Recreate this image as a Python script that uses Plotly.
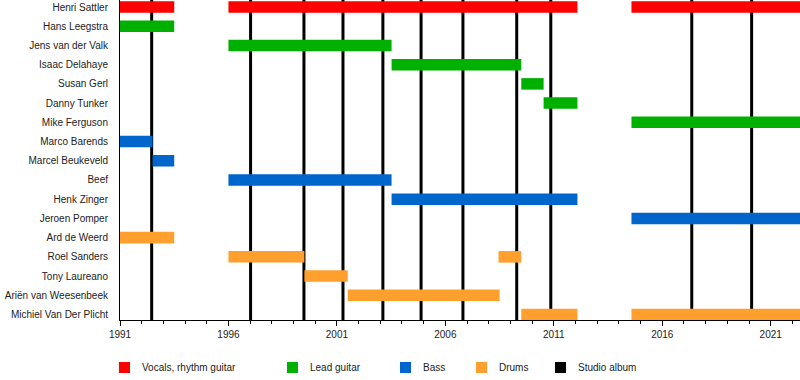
import plotly.graph_objects as go

# ---- data ----
members = [
    "Henri Sattler", "Hans Leegstra", "Jens van der Valk", "Isaac Delahaye",
    "Susan Gerl", "Danny Tunker", "Mike Ferguson", "Marco Barends",
    "Marcel Beukeveld", "Beef", "Henk Zinger", "Jeroen Pomper",
    "Ard de Weerd", "Roel Sanders", "Tony Laureano", "Ariën van Weesenbeek",
    "Michiel Van Der Plicht",
]
roles = ["Vocals, rhythm guitar", "Lead guitar", "Bass", "Drums"]
role_colors = ["#FF0000", "#00B000", "#0066CC", "#FFA02E"]

END = 2022.35  # chart end ("present")

span_member = [
    "Henri Sattler", "Henri Sattler", "Henri Sattler",
    "Hans Leegstra", "Jens van der Valk", "Isaac Delahaye", "Susan Gerl",
    "Danny Tunker", "Mike Ferguson",
    "Marco Barends", "Marcel Beukeveld", "Beef", "Henk Zinger", "Jeroen Pomper",
    "Ard de Weerd", "Roel Sanders", "Roel Sanders", "Tony Laureano",
    "Ariën van Weesenbeek", "Michiel Van Der Plicht", "Michiel Van Der Plicht",
]
span_role = [
    "Vocals, rhythm guitar", "Vocals, rhythm guitar", "Vocals, rhythm guitar",
    "Lead guitar", "Lead guitar", "Lead guitar", "Lead guitar",
    "Lead guitar", "Lead guitar",
    "Bass", "Bass", "Bass", "Bass", "Bass",
    "Drums", "Drums", "Drums", "Drums",
    "Drums", "Drums", "Drums",
]
span_start = [
    1991.0, 1996.0, 2014.58,
    1991.0, 1996.0, 2003.52, 2009.5,
    2010.53, 2014.58,
    1991.0, 1992.5, 1996.0, 2003.52, 2014.58,
    1991.0, 1996.0, 2008.45, 1999.5,
    2001.5, 2009.5, 2014.58,
]
span_end = [
    1993.5, 2012.09, END,
    1993.5, 2003.52, 2009.5, 2010.53,
    2012.09, END,
    1992.5, 1993.5, 2003.52, 2012.09, END,
    1993.5, 1999.5, 2009.5, 2001.5,
    2008.5, 2012.09, END,
]
album_years = [1992.46, 1997.02, 1999.48, 2001.28, 2003.12, 2004.88,
               2006.81, 2009.29, 2010.86, 2017.36, 2020.12]

tick_years = [1991, 1996, 2001, 2006, 2011, 2016, 2021]

# ---- figure ----
FONT = "Liberation Sans, Arial, sans-serif"
fig = go.Figure()

row_of = {m: i for i, m in enumerate(members)}
for role, color in zip(roles, role_colors):
    idx = [k for k, r in enumerate(span_role) if r == role]
    fig.add_trace(go.Bar(
        orientation="h",
        y=[row_of[span_member[k]] for k in idx],
        base=[span_start[k] for k in idx],
        x=[span_end[k] - span_start[k] for k in idx],
        marker=dict(color=color, line=dict(width=0)),
        width=0.6,
        showlegend=False,
        hoverinfo="skip",
    ))

shapes = []
for yr in album_years:
    shapes.append(dict(type="line", xref="x", yref="paper", x0=yr, x1=yr,
                       y0=0, y1=1, line=dict(color="black", width=3),
                       layer="below"))

# legend (manual)
legend_items = roles + ["Studio album"]
legend_colors = role_colors + ["#000000"]
legend_px = [119, 287, 400, 476, 555]
annotations = []
W, H = 800, 380
L, B = 120, 60
pw, ph = W - L, H - B
for name, col, px in zip(legend_items, legend_colors, legend_px):
    x0 = (px - L) / pw
    x1 = (px + 11 - L) / pw
    y0 = (H - 373 - B) / ph
    y1 = (H - 362 - B) / ph
    shapes.append(dict(type="rect", xref="paper", yref="paper",
                       x0=x0, x1=x1, y0=y0, y1=y1,
                       fillcolor=col, line=dict(width=0)))
    annotations.append(dict(xref="paper", yref="paper",
                            x=(px + 21 - L) / pw, y=(H - 367.5 - B) / ph,
                            text=name, showarrow=False, xanchor="left",
                            yanchor="middle",
                            font=dict(family=FONT, size=10, color="#222")))

fig.update_layout(
    width=W, height=H,
    margin=dict(l=L, r=0, t=0, b=B, autoexpand=False),
    plot_bgcolor="white", paper_bgcolor="white",
    barmode="overlay",
    shapes=shapes,
    annotations=annotations,
    font=dict(family=FONT, size=10, color="#222"),
    xaxis=dict(
        range=[1991, END], tickvals=tick_years,
        ticktext=[str(t) for t in tick_years],
        ticks="outside", ticklen=5, tickcolor="black", tickwidth=1,
        minor=dict(dtick=1, tick0=1991, ticks="outside", ticklen=3,
                   tickcolor="black", showgrid=False),
        showline=True, linecolor="black", linewidth=1,
        showgrid=False, zeroline=False, fixedrange=True, automargin=False,
        tickfont=dict(family=FONT, size=10, color="#222"),
    ),
    yaxis=dict(
        range=[16.286, -0.364],
        tickvals=list(range(len(members))), ticktext=members,
        ticks="", ticklabelstandoff=9,
        showline=True, linecolor="black", linewidth=1,
        showgrid=False, zeroline=False, fixedrange=True, automargin=False,
        tickfont=dict(family=FONT, size=10, color="#222"),
    ),
)

fig.write_html(
    "out.html",
    config={"displayModeBar": False},
    post_script="document.body.style.margin='0';document.body.style.overflow='hidden';",
)
